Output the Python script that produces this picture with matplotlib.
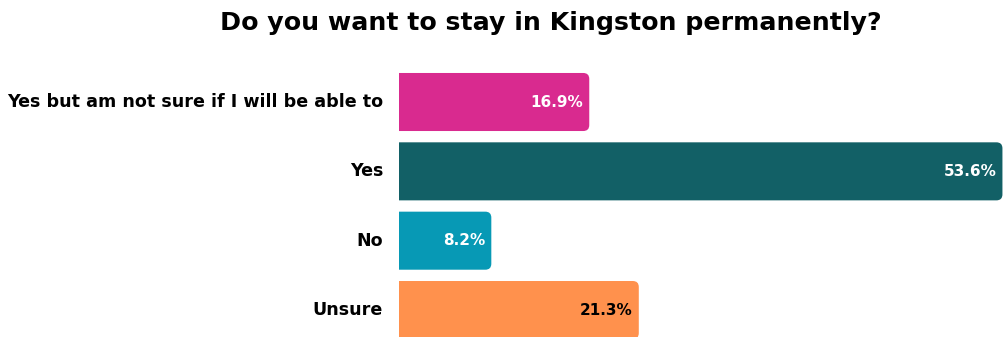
import matplotlib
matplotlib.use('Agg')
import matplotlib.pyplot as plt
from matplotlib.patches import FancyBboxPatch

categories = ['Yes but am not sure if I will be able to', 'Yes', 'No', 'Unsure']
values = [16.9, 53.6, 8.2, 21.3]
colors = ['#D92A8F', '#126066', '#0799B5', '#FF914D']
label_colors = ['white', 'white', 'white', 'black']

FONT = 'DejaVu Sans'
W, H = 1004, 337

fig = plt.figure(figsize=(W / 100, H / 100), dpi=100)
ax = fig.add_axes([399 / W, 0, 604 / W, 1])

xmax = 53.65
ax.set_xlim(0, xmax)
ax.set_ylim(3.389, -1.471)
ax.axis('off')

# rounded right-hand corners: keep the radius circular in pixels
px_x = 604 / xmax
px_y = H / (3.389 + 1.471)
r = 6 / px_x
aspect = px_x / px_y
bar_h = 0.837

for i, (v, c, lc) in enumerate(zip(values, colors, label_colors)):
    patch = FancyBboxPatch((-r * 2, i - bar_h / 2), v + r * 2, bar_h,
                           boxstyle=f'round,pad=0,rounding_size={r}',
                           mutation_aspect=aspect,
                           facecolor=c, edgecolor='none', clip_on=True)
    ax.add_patch(patch)
    ax.text(v - 6 / px_x, i, f'{v}%', ha='right', va='center',
            color=lc, fontsize=11, fontweight='bold', family=FONT)
    ax.text(-16 / px_x, i, categories[i], ha='right', va='center',
            color='black', fontsize=12.6, fontweight='bold', family=FONT,
            clip_on=False)

fig.text(551 / W, 1 - 23 / H, 'Do you want to stay in Kingston permanently?',
         ha='center', va='center', fontsize=18.2, fontweight='bold', family=FONT)

fig.savefig('out.png', dpi=100)
